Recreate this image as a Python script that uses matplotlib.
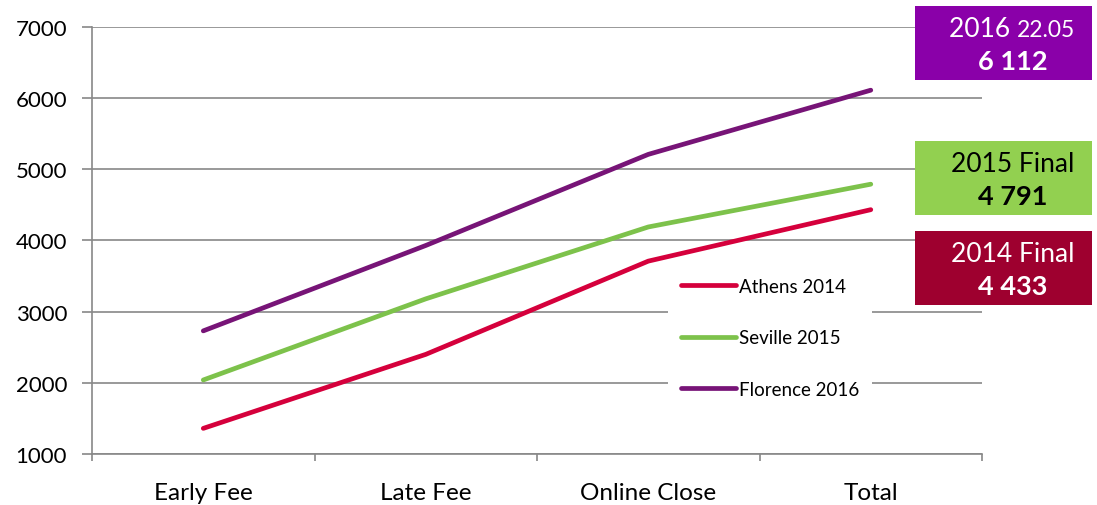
import matplotlib.pyplot as plt
from matplotlib.patches import Rectangle

# ---- data ----
stages = ['Early Fee', 'Late Fee', 'Online Close', 'Total']
athens = [1360, 2400, 3710, 4433]
seville = [2040, 3180, 4190, 4791]
florence = [2730, 3930, 5210, 6112]

plt.rcParams['font.family'] = ['Lato', 'DejaVu Sans']

grid_col = '#888888'
fig = plt.figure(figsize=(10.97, 5.06), dpi=100)
ax = fig.add_axes([0.0839, 0.1008, 0.8113, 0.8439])

x = range(len(stages))
ax.plot(x, athens, color='#D5003C', lw=3.4, solid_capstyle='round', label='Athens 2014', zorder=3)
ax.plot(x, seville, color='#7DC24B', lw=3.4, solid_capstyle='round', label='Seville 2015', zorder=3)
ax.plot(x, florence, color='#771477', lw=3.4, solid_capstyle='round', label='Florence 2016', zorder=3)

ax.set_xlim(-0.5, len(stages) - 0.5)
ax.set_ylim(1000, 7000)
ax.set_yticks(range(1000, 7001, 1000))
ax.yaxis.grid(True, color=grid_col, lw=1.2)
ax.set_axisbelow(True)

ax.set_xticks(list(x))
ax.set_xticklabels(stages)
ax.set_xticks([i - 0.5 for i in range(len(stages) + 1)], minor=True)
ax.tick_params(axis='x', which='major', length=0, pad=20, labelsize=17.5)
ax.tick_params(axis='x', which='minor', length=5, width=1.2, color=grid_col, direction='out')
ax.tick_params(axis='y', length=7, width=1.2, color=grid_col, pad=11, labelsize=16)

for s in ['top', 'right']:
    ax.spines[s].set_visible(False)
for s in ['left', 'bottom']:
    ax.spines[s].set_color(grid_col)
    ax.spines[s].set_linewidth(1.2)

leg = ax.legend(loc='center', bbox_to_anchor=(0.762, 0.272), frameon=True,
                fontsize=13.5, handlelength=2.9, handletextpad=0.15,
                labelspacing=1.85, borderpad=0.7, fancybox=False)
leg.get_frame().set_facecolor('white')
leg.get_frame().set_edgecolor('none')
leg.get_frame().set_alpha(1)

# ---- callout boxes ----
boxes = [
    (0.840, '#8A00A9', 'white', '2016 ', '22.05', '6 112'),
    (0.573, '#92D050', 'black', '2015 Final', '', '4 791'),
    (0.395, '#9E002F', 'white', '2014 Final', '', '4 433'),
]
bx, bw, bh = 0.834, 0.1614, 0.1462
cx = 0.923
renderer = fig.canvas.get_renderer()
for y0, fc, tc, top, extra, num in boxes:
    fig.patches.append(Rectangle((bx, y0), bw, bh, transform=fig.transFigure,
                                 facecolor=fc, edgecolor='none', zorder=5))
    ty = y0 + bh * 0.70
    if extra:
        t1 = fig.text(cx, ty, top, color=tc, fontsize=19, ha='left', va='baseline', zorder=6)
        t2 = fig.text(cx, ty, extra, color=tc, fontsize=16.5, ha='left', va='baseline', zorder=6)
        w1 = t1.get_window_extent(renderer).width / fig.bbox.width
        w2 = t2.get_window_extent(renderer).width / fig.bbox.width
        left = cx - (w1 + w2) / 2
        t1.set_x(left)
        t2.set_x(left + w1)
        for t in (t1, t2):
            t.set_y(ty - 0.016)
    else:
        fig.text(cx, ty, top, color=tc, fontsize=19,
                 ha='center', va='center', zorder=6)
    fig.text(cx, y0 + bh * 0.26, num, color=tc, fontsize=19.5, fontweight='bold',
             ha='center', va='center', zorder=6)

fig.savefig('out.png', dpi=100)
